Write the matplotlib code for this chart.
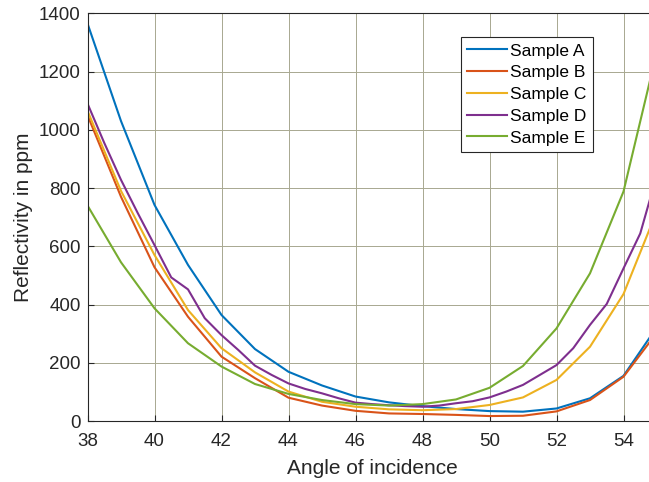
import numpy as np
import matplotlib
matplotlib.use("Agg")
import matplotlib.pyplot as plt

# reflectivity vs angle of incidence
angles = np.arange(38, 56)
angles_d = np.arange(38, 55.5, 0.5)

sample_a = [1365, 1030, 742, 536, 364, 247, 169, 122, 84, 64, 51, 41, 34, 32, 43, 78, 155, 323]
sample_b = [1050, 770, 528, 358, 221, 147, 80, 53, 35, 26, 24, 21, 17, 18, 33, 72, 152, 304]
sample_c = [1065, 790, 570, 381, 250, 167, 101, 66, 49, 40, 37, 41, 55, 81, 141, 255, 436, 722]
# sample D was measured in half-degree steps
sample_d = [1090, 955, 828, 714, 604, 493, 452, 353, 295, 244, 190, 158, 129, 110, 95, 78,
            63, 58, 54, 51, 49, 53, 61, 68, 81, 101, 124, 158, 192, 250, 330, 402, 524, 644, 846]
sample_e = [740, 545, 387, 267, 187, 127, 93, 72, 58, 53, 58, 74, 114, 189, 318, 507, 788, 1270]

labels = ["Sample A", "Sample B", "Sample C", "Sample D", "Sample E"]
colors = ["#0072BD", "#D95319", "#EDB120", "#7E2F8E", "#77AC30"]

plt.rcParams["font.family"] = ["Liberation Sans", "DejaVu Sans"]

fig = plt.figure(figsize=(6.49, 4.82), dpi=100)
ax = fig.add_axes([87.5 / 649, 61 / 482, (657 - 87.5) / 649, (421 - 13.3) / 482])

series = [(angles, sample_a), (angles, sample_b), (angles, sample_c),
          (angles_d, sample_d), (angles, sample_e)]
for (x, y), lab, col in zip(series, labels, colors):
    ax.plot(x, y, color=col, lw=1.5, label=lab)

ax.set_xlim(38, 55)
ax.set_ylim(0, 1400)
ax.set_xticks(np.arange(38, 55, 2))
ax.set_yticks(np.arange(0, 1401, 200))

ax.grid(True, color="#a8a890", lw=0.7)
ax.set_axisbelow(True)
for s in ax.spines.values():
    s.set_color("#262626")
    s.set_linewidth(0.8)
ax.tick_params(direction="in", length=4, width=0.8, color="#262626",
               labelsize=13.5, labelcolor="#262626")
ax.tick_params(axis="x", pad=9)
ax.tick_params(axis="y", pad=5)

ax.set_xlabel("Angle of incidence", fontsize=15, color="#262626", labelpad=6)
ax.set_ylabel("Reflectivity in ppm", fontsize=15, color="#262626", labelpad=4)

leg = ax.legend(loc="upper left", bbox_to_anchor=((460.7 - 87.5) / 569.5, (421 - 37.3) / 407.7),
                fontsize=12.5, frameon=True, fancybox=False, handlelength=2.3,
                handletextpad=0.2, labelspacing=0.38, borderpad=0.35, borderaxespad=0)
leg.get_frame().set_edgecolor("#262626")
leg.get_frame().set_linewidth(0.8)
leg.get_frame().set_alpha(1)

fig.savefig("out.png", dpi=100)
